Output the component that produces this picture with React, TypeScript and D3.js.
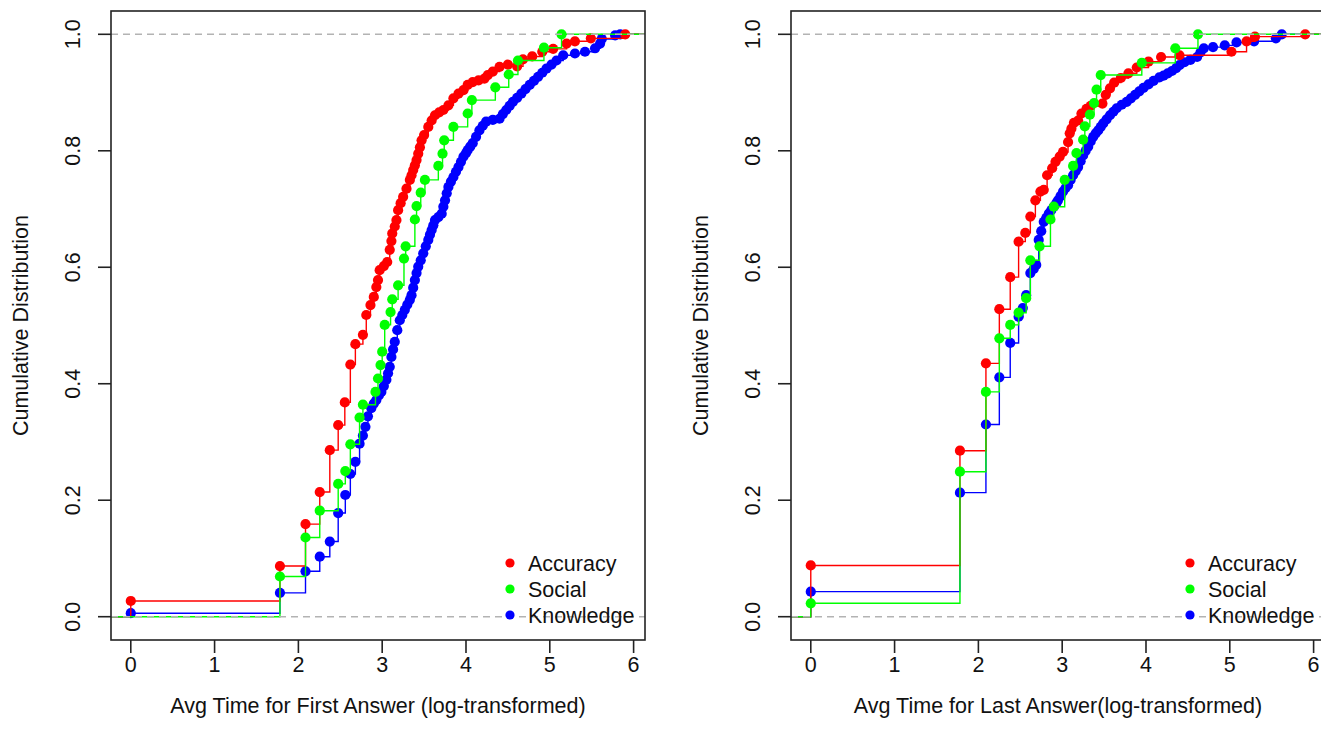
import React from "react";
import * as d3 from "d3";

type Pt = [number, number];

// ECDF points [x, F(x)]
const firstAccuracy: Pt[] = [
  [0, 0.027], [1.78, 0.087], [2.085, 0.159], [2.255, 0.214], [2.375, 0.286], [2.475, 0.329],
  [2.554, 0.368], [2.62, 0.433], [2.68, 0.468], [2.77, 0.484], [2.81, 0.518], [2.86, 0.535],
  [2.9, 0.549], [2.93, 0.566], [2.95, 0.578], [2.97, 0.595], [3.02, 0.602], [3.06, 0.609],
  [3.09, 0.63], [3.11, 0.645], [3.12, 0.658], [3.15, 0.67], [3.17, 0.681], [3.19, 0.698],
  [3.22, 0.71], [3.25, 0.721], [3.29, 0.735], [3.33, 0.75], [3.35, 0.758], [3.37, 0.767],
  [3.39, 0.775], [3.41, 0.784], [3.43, 0.795], [3.45, 0.806], [3.47, 0.818], [3.5, 0.827],
  [3.55, 0.841], [3.59, 0.852], [3.63, 0.861], [3.68, 0.866], [3.73, 0.87], [3.79, 0.878],
  [3.85, 0.89], [3.91, 0.898], [3.97, 0.904], [4.02, 0.913], [4.08, 0.918], [4.15, 0.921],
  [4.22, 0.924], [4.26, 0.93], [4.32, 0.936], [4.4, 0.944], [4.5, 0.948], [4.61, 0.945],
  [4.68, 0.957], [4.79, 0.962], [4.91, 0.97], [5.04, 0.975], [5.2, 0.984], [5.3, 0.988],
  [5.49, 0.993], [5.9, 1.0],
];
const firstSocial: Pt[] = [
  [1.78, 0.069], [2.085, 0.136], [2.255, 0.182], [2.475, 0.228], [2.56, 0.25], [2.62, 0.296],
  [2.73, 0.342], [2.77, 0.364], [2.92, 0.386], [2.95, 0.409], [2.98, 0.432], [3.0, 0.455],
  [3.03, 0.501], [3.1, 0.523], [3.12, 0.545], [3.19, 0.569], [3.26, 0.615], [3.28, 0.636],
  [3.39, 0.682], [3.41, 0.705], [3.46, 0.728], [3.51, 0.75], [3.67, 0.774], [3.72, 0.795],
  [3.74, 0.818], [3.85, 0.841], [4.02, 0.864], [4.07, 0.887], [4.35, 0.909], [4.51, 0.931],
  [4.62, 0.955], [4.93, 0.977], [5.14, 1.0],
];
const firstKnowledge: Pt[] = [
  [0, 0.006], [1.78, 0.041], [2.085, 0.078], [2.255, 0.103], [2.375, 0.129], [2.475, 0.178],
  [2.56, 0.209], [2.62, 0.245], [2.68, 0.266], [2.73, 0.297], [2.77, 0.311], [2.8, 0.326],
  [2.83, 0.344], [2.87, 0.358], [2.9, 0.366], [2.93, 0.372], [2.96, 0.38], [2.99, 0.386],
  [3.02, 0.396], [3.05, 0.407], [3.07, 0.418], [3.09, 0.429], [3.11, 0.446], [3.13, 0.459],
  [3.15, 0.472], [3.18, 0.492], [3.21, 0.509], [3.24, 0.518], [3.27, 0.527], [3.3, 0.536],
  [3.33, 0.544], [3.35, 0.552], [3.37, 0.565], [3.39, 0.578], [3.41, 0.59], [3.43, 0.601],
  [3.46, 0.612], [3.49, 0.624], [3.52, 0.636], [3.55, 0.647], [3.57, 0.656], [3.59, 0.664],
  [3.61, 0.672], [3.63, 0.681], [3.67, 0.686], [3.71, 0.692], [3.73, 0.704], [3.75, 0.715],
  [3.77, 0.727], [3.79, 0.738], [3.82, 0.747], [3.85, 0.755], [3.88, 0.764], [3.91, 0.772],
  [3.94, 0.781], [3.97, 0.79], [4.0, 0.796], [4.02, 0.801], [4.05, 0.807], [4.08, 0.813],
  [4.12, 0.824], [4.16, 0.835], [4.2, 0.843], [4.24, 0.85], [4.32, 0.853], [4.4, 0.855],
  [4.44, 0.863], [4.48, 0.87], [4.52, 0.877], [4.56, 0.884], [4.61, 0.891], [4.66, 0.898],
  [4.71, 0.906], [4.76, 0.913], [4.81, 0.92], [4.86, 0.927], [4.91, 0.934], [4.96, 0.941],
  [5.02, 0.948], [5.08, 0.955], [5.16, 0.964], [5.3, 0.967], [5.42, 0.97], [5.54, 0.976],
  [5.6, 0.984], [5.62, 0.992], [5.78, 0.998], [5.84, 1.0],
];

const lastAccuracy: Pt[] = [
  [0, 0.088], [1.78, 0.285], [2.09, 0.435], [2.25, 0.528], [2.38, 0.583], [2.48, 0.644],
  [2.56, 0.659], [2.62, 0.687], [2.68, 0.715], [2.74, 0.73], [2.78, 0.733], [2.82, 0.758],
  [2.88, 0.77], [2.92, 0.781], [2.97, 0.79], [3.01, 0.798], [3.07, 0.815], [3.09, 0.83],
  [3.11, 0.838], [3.14, 0.848], [3.19, 0.852], [3.23, 0.864], [3.29, 0.872], [3.34, 0.877],
  [3.48, 0.881], [3.52, 0.896], [3.57, 0.907], [3.62, 0.917], [3.7, 0.925], [3.79, 0.933],
  [3.89, 0.943], [4.03, 0.953], [4.18, 0.961], [4.4, 0.964], [5.02, 0.97], [5.2, 0.988],
  [5.3, 0.996], [5.9, 1.0],
];
const lastSocial: Pt[] = [
  [0, 0.023], [1.78, 0.249], [2.09, 0.386], [2.25, 0.478], [2.38, 0.501], [2.48, 0.522],
  [2.57, 0.547], [2.62, 0.612], [2.73, 0.636], [2.86, 0.682], [2.9, 0.704], [3.03, 0.75],
  [3.13, 0.774], [3.17, 0.796], [3.25, 0.819], [3.27, 0.842], [3.33, 0.862], [3.38, 0.882],
  [3.41, 0.905], [3.46, 0.93], [3.95, 0.951], [4.35, 0.976], [4.62, 1.0],
];
const lastKnowledge: Pt[] = [
  [0, 0.043], [1.78, 0.213], [2.09, 0.33], [2.25, 0.411], [2.38, 0.47], [2.48, 0.515],
  [2.53, 0.53], [2.57, 0.552], [2.62, 0.59], [2.66, 0.597], [2.69, 0.604], [2.72, 0.647],
  [2.75, 0.662], [2.78, 0.678], [2.81, 0.685], [2.84, 0.692], [2.87, 0.698], [2.9, 0.704],
  [2.93, 0.71], [2.95, 0.715], [2.98, 0.722], [3.01, 0.73], [3.04, 0.736], [3.07, 0.741],
  [3.1, 0.75], [3.13, 0.758], [3.16, 0.765], [3.19, 0.772], [3.22, 0.782], [3.25, 0.792],
  [3.28, 0.8], [3.31, 0.807], [3.34, 0.816], [3.37, 0.824], [3.4, 0.83], [3.43, 0.835],
  [3.46, 0.841], [3.49, 0.847], [3.53, 0.854], [3.57, 0.861], [3.61, 0.867], [3.65, 0.873],
  [3.71, 0.879], [3.77, 0.884], [3.82, 0.89], [3.87, 0.896], [3.92, 0.902], [3.97, 0.908],
  [4.03, 0.914], [4.09, 0.92], [4.16, 0.926], [4.21, 0.929], [4.26, 0.933], [4.31, 0.937],
  [4.36, 0.942], [4.4, 0.947], [4.46, 0.952], [4.53, 0.956], [4.61, 0.961], [4.65, 0.969],
  [4.69, 0.976], [4.8, 0.978], [4.94, 0.981], [5.08, 0.986], [5.29, 0.988], [5.55, 0.993],
  [5.62, 1.0],
];

const seriesNames = ["Accuracy", "Social", "Knowledge"];
const seriesColors = ["#ff0000", "#00ff00", "#0000ff"];
const drawOrder = [2, 0, 1];
const yTicks = [0, 0.2, 0.4, 0.6, 0.8, 1.0];
const xTicks = [0, 1, 2, 3, 4, 5, 6];
const xTitles = [
  "Avg Time for First Answer (log-transformed)",
  "Avg Time for Last Answer(log-transformed)",
];
const yTitle = "Cumulative Distribution";

const W = 1321;
const H = 744;
const FONT = "'Liberation Sans', Arial, Helvetica, sans-serif";
const FS = 21.5;

function Panel({ idx, left, data }: { idx: number; left: number; data: Pt[][] }) {
  const top = 11;
  const bottom = 640;
  const width = 534;
  const right = left + width;

  const allX = data.flat().map((d) => d[0]);
  const [lo, hi] = d3.extent(allX) as [number, number];
  const pad = (hi - lo) * 0.04;
  const x = d3.scaleLinear().domain([lo - pad, hi + pad]).range([left, right]);
  const y = d3.scaleLinear().domain([-0.04, 1.04]).range([bottom, top]);

  const step = d3
    .line<Pt>()
    .x((d) => x(d[0]))
    .y((d) => y(d[1]))
    .curve(d3.curveStepAfter);

  const clipId = `clip-${idx}`;
  const cx = (left + right) / 2;
  const cy = (top + bottom) / 2;

  return (
    <g>
      <defs>
        <clipPath id={clipId}>
          <rect x={left} y={top} width={width} height={bottom - top} />
        </clipPath>
      </defs>
      <g clipPath={`url(#${clipId})`}>
        {drawOrder.map((s) => {
          const pts = data[s];
          const path: Pt[] = [[lo - pad - 1, 0], ...pts, [hi + pad + 1, 1]];
          return (
            <g key={s}>
              <path d={step(path) ?? ""} fill="none" stroke={seriesColors[s]} strokeWidth={1.4} />
              {pts.map((d, i) => (
                <circle key={i} cx={x(d[0])} cy={y(d[1])} r={5.1} fill={seriesColors[s]} />
              ))}
            </g>
          );
        })}
        {[0, 1].map((v) => (
          <line
            key={v}
            x1={left}
            x2={right}
            y1={y(v)}
            y2={y(v)}
            stroke="#b3b3b3"
            strokeWidth={1.5}
            strokeDasharray="7 5"
          />
        ))}
      </g>
      <rect x={left} y={top} width={width} height={bottom - top} fill="none" stroke="#222" strokeWidth={1.6} />

      {xTicks.map((t) => (
        <g key={t}>
          <line x1={x(t)} x2={x(t)} y1={bottom} y2={bottom + 13} stroke="#222" strokeWidth={1.6} />
          <text x={x(t)} y={bottom + 32} textAnchor="middle" fontSize={FS} fontFamily={FONT} fill="#111">
            {t}
          </text>
        </g>
      ))}
      {yTicks.map((t) => (
        <g key={t}>
          <line x1={left - 13} x2={left} y1={y(t)} y2={y(t)} stroke="#222" strokeWidth={1.6} />
          <text
            transform={`translate(${left - 31},${y(t)}) rotate(-90)`}
            textAnchor="middle"
            fontSize={FS}
            fontFamily={FONT}
            fill="#111"
          >
            {d3.format(".1f")(t)}
          </text>
        </g>
      ))}

      <text x={cx} y={bottom + 73} textAnchor="middle" fontSize={FS} fontFamily={FONT} fill="#111">
        {xTitles[idx]}
      </text>
      <text
        transform={`translate(${left - 83},${cy}) rotate(-90)`}
        textAnchor="middle"
        fontSize={FS}
        fontFamily={FONT}
        fill="#111"
      >
        {yTitle}
      </text>

      {seriesNames.map((name, i) => {
        const ly = bottom - 77 + i * 26;
        return (
          <g key={name}>
            <circle cx={right - 135} cy={ly} r={4.6} fill={seriesColors[i]} />
            <text x={right - 117} y={ly} dy="0.35em" fontSize={FS} fontFamily={FONT} fill="#111">
              {name}
            </text>
          </g>
        );
      })}
    </g>
  );
}

export default function App() {
  const panels = [
    { left: 111, data: [firstAccuracy, firstSocial, firstKnowledge] },
    { left: 791, data: [lastAccuracy, lastSocial, lastKnowledge] },
  ];
  return (
    <svg
      width={W}
      height={H}
      style={{ position: "absolute", left: 0, top: 0, background: "#fff", display: "block" }}
    >
      <rect width={W} height={H} fill="#fff" />
      {panels.map((p, i) => (
        <Panel key={i} idx={i} left={p.left} data={p.data} />
      ))}
    </svg>
  );
}
